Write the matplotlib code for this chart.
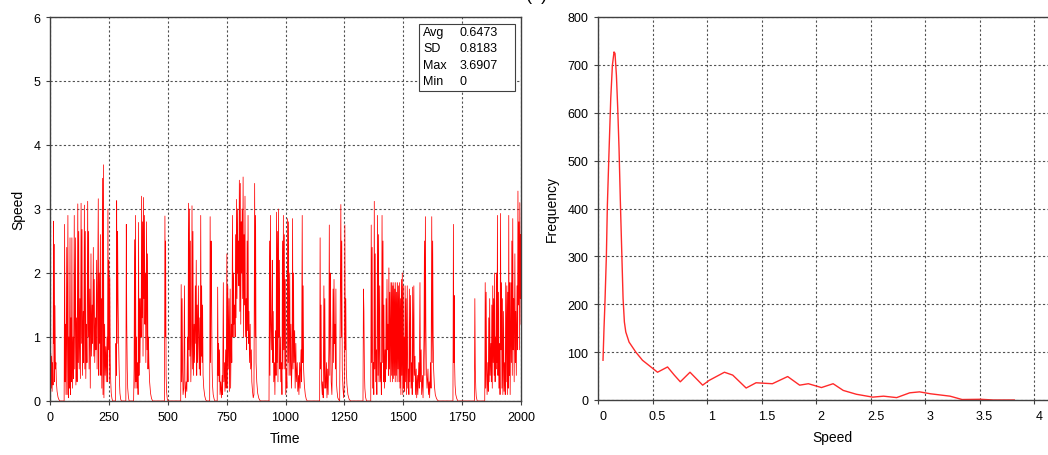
import matplotlib
matplotlib.use("Agg")
import matplotlib.pyplot as plt
import matplotlib.transforms as mtransforms

plt.rcParams['font.family'] = ['Liberation Sans', 'DejaVu Sans']
plt.rcParams['font.size'] = 9

# speed trace, (time, speed) pairs, split by time range
trace_0_500 = [
    (0, 1.27), (2, 0.3), (3, 0.75), (5, 0.2), (7, 0.7), (9, 0.15), (11, 0.6), (13, 0.25), (15, 2.81), (16, 0.9),
    (17, 2.45), (19, 0.3), (21, 1.49), (23, 0.5), (25, 0.6), (27, 0.3), (30, 0.15), (34, 0.06), (38, 0.02), (42, 0),
    (60, 0), (62, 2.76), (64, 0.3), (66, 1.2), (68, 0.1), (71, 2.4), (73, 0.1), (76, 2.9), (78, 0.05), (80, 1.0),
    (82, 0.2), (85, 2.55), (87, 0.1), (89, 1.3), (91, 0.3), (93, 2.55), (95, 0.2), (98, 1.0), (100, 0.35), (103, 2.9),
    (105, 0.5), (108, 2.55), (110, 0.25), (113, 1.3), (115, 0.3), (118, 3.08), (120, 0.6), (122, 2.65), (124, 0.5),
    (127, 1.6), (129, 0.35), (132, 3.09), (134, 0.9), (136, 2.68), (138, 0.4), (141, 1.4), (143, 0.6), (146, 3.06),
    (148, 0.5), (150, 2.65), (152, 0.35), (155, 1.2), (157, 0.6), (160, 3.12), (162, 1.0), (164, 2.65), (166, 0.5),
    (169, 1.75), (171, 0.2), (174, 2.3), (176, 0.7), (179, 1.5), (181, 0.9), (184, 2.4), (186, 0.7), (188, 1.9),
    (190, 0.6), (193, 1.3), (195, 0.8), (198, 2.2), (200, 0.5), (203, 2.0), (205, 3.16), (207, 0.4), (209, 2.0),
    (211, 0.9), (214, 2.6), (216, 0.4), (218, 1.6), (220, 0.2), (223, 3.48), (225, 0.1), (227, 3.6907), (229, 0.05),
    (232, 1.2), (234, 0.4), (237, 0.85), (239, 0.3), (242, 1.0), (244, 0.3), (246, 3.0), (248, 0.8), (250, 2.2),
    (252, 0.3), (254, 1.93), (256, 0.6), (258, 0.3), (260, 0.12), (263, 0.04), (266, 0),
    (278, 0), (280, 0.9), (282, 0.4), (283, 3.13), (285, 0.9), (287, 2.65), (289, 1.6), (291, 1.0), (293, 0.6),
    (295, 0.3), (297, 0.12), (300, 0.03), (303, 0),
    (322, 0), (324, 2.76), (326, 1.2), (328, 0.5), (330, 0.2), (333, 0.06), (336, 0),
    (355, 0), (357, 0.5), (359, 2.52), (361, 0.2), (363, 2.9), (365, 0.3), (367, 1.0), (369, 0.2), (372, 0.6),
    (374, 0.1), (376, 2.79), (378, 0.4), (380, 1.6), (382, 0.6), (385, 1.6), (387, 1.0), (389, 3.2), (391, 1.3),
    (393, 2.8), (395, 0.7), (397, 3.18), (399, 1.6), (401, 2.9), (403, 1.2), (405, 2.0), (407, 0.6), (410, 2.8),
    (412, 0.8), (414, 2.3), (416, 0.5), (418, 1.0), (420, 0.6), (423, 0.3), (427, 0.12), (431, 0.04), (436, 0),
    (486, 0), (488, 2.89), (490, 1.0), (491, 2.5), (493, 0.4), (495, 0.15), (498, 0.03), (501, 0),
]
trace_500_1000 = [
    (555, 0), (557, 1.82), (559, 0.3), (561, 1.6), (563, 0.5), (565, 0.1), (568, 0.2), (571, 1.8), (573, 0.3),
    (575, 0.05), (578, 0.3), (581, 0.15), (584, 1.0), (586, 0.3), (588, 3.09), (590, 0.8), (592, 3.0), (594, 0.7),
    (596, 2.5), (598, 0.3), (601, 1.0), (603, 3.05), (605, 0.5), (607, 2.65), (609, 0.4), (612, 1.2), (614, 0.6),
    (617, 1.8), (619, 0.9), (621, 2.2), (623, 0.4), (625, 1.5), (627, 0.6), (630, 1.8), (632, 0.9), (634, 0.5),
    (636, 1.3), (638, 0.4), (640, 2.9), (642, 0.7), (644, 1.8), (646, 0.6), (648, 1.5), (650, 0.4), (653, 0.2),
    (657, 0.08), (661, 0.02), (665, 0),
    (678, 0), (680, 2.88), (682, 0.6), (684, 2.5), (686, 1.8), (688, 0.6), (690, 0.25), (693, 0.1), (697, 0.03), (700, 0),
    (710, 0), (712, 1.78), (714, 0.4), (716, 0.9), (718, 0.3), (720, 0.8), (722, 0.1), (725, 0.3), (728, 0.05),
    (731, 0.4), (733, 0.1), (736, 1.85), (738, 0.3), (741, 0.6), (743, 0.15), (746, 0.8), (748, 0.2), (751, 2.3),
    (753, 0.2), (755, 1.8), (757, 0.5), (760, 1.6), (762, 0.15), (765, 1.75), (767, 0.2), (770, 1.2), (772, 0.6),
    (775, 2.9), (777, 1.0), (779, 2.0), (781, 1.2), (784, 1.5), (786, 1.0), (788, 2.6), (790, 1.3), (792, 3.15),
    (794, 1.6), (796, 3.0), (798, 2.0), (800, 2.5), (802, 1.8), (804, 3.45), (806, 1.4), (808, 3.4), (810, 1.2),
    (812, 2.8), (814, 2.0), (816, 3.0), (818, 1.6), (820, 3.5), (822, 1.0), (824, 2.6), (826, 1.5), (828, 3.2),
    (830, 1.0), (833, 1.6), (835, 0.8), (837, 2.5), (839, 1.1), (841, 2.9), (843, 0.9), (845, 1.4), (847, 0.6),
    (850, 1.2), (852, 0.5), (855, 0.8), (857, 0.3), (860, 0.15), (863, 0.05), (866, 0.1), (869, 3.4), (871, 1.0),
    (873, 2.9), (875, 0.6), (878, 0.3), (882, 0.12), (887, 0.04), (893, 0),
    (930, 0), (932, 2.5), (934, 0.4), (936, 2.9), (938, 1.2), (940, 0.8), (942, 1.4), (944, 2.2), (946, 0.6),
    (948, 1.4), (950, 0.3), (953, 0.6), (955, 0.1), (958, 1.1), (960, 0.4), (962, 2.95), (964, 0.6), (966, 2.65),
    (968, 0.3), (970, 3.0), (972, 1.0), (974, 2.2), (976, 0.5), (978, 1.0), (980, 0.3), (983, 0.6), (985, 0.1),
    (987, 2.5), (989, 0.5), (991, 2.9), (993, 0.8), (995, 2.6), (997, 0.5), (999, 1.9),
]
trace_1000_1500 = [
    (1001, 0.1), (1004, 0.5), (1006, 0.2), (1009, 2.85), (1011, 0.6), (1013, 2.8), (1015, 0.4), (1018, 2.0),
    (1020, 0.4), (1023, 1.2), (1025, 0.2), (1028, 0.6), (1030, 2.85), (1032, 0.5), (1034, 2.0), (1036, 0.6),
    (1039, 1.1), (1041, 0.2), (1044, 0.9), (1046, 0.3), (1050, 0.6), (1052, 0.15), (1055, 0.4), (1057, 0.1),
    (1060, 0.6), (1062, 0.2), (1066, 0.8), (1068, 0.3), (1071, 2.9), (1073, 0.6), (1075, 1.8), (1077, 0.5),
    (1080, 0.25), (1084, 0.1), (1088, 0.03), (1092, 0),
    (1145, 0), (1147, 2.55), (1149, 0.5), (1151, 1.5), (1153, 0.3), (1156, 0.1), (1158, 0.3), (1160, 0.05),
    (1163, 1.8), (1165, 0.2), (1167, 1.6), (1169, 0.3), (1171, 0.2), (1174, 0.6), (1176, 0.05), (1179, 0.5),
    (1181, 0.1), (1184, 0.8), (1186, 2.75), (1188, 0.4), (1190, 2.0), (1192, 1.3), (1194, 0.3), (1197, 0.1),
    (1200, 0.8), (1202, 1.75), (1204, 0.6), (1206, 1.9), (1208, 0.9), (1210, 1.2), (1212, 0.5), (1214, 1.75),
    (1216, 0.3), (1219, 0.15), (1222, 0.05), (1226, 0.02), (1230, 0), (1235, 3.07), (1237, 1.0), (1239, 2.5),
    (1241, 0.5), (1244, 0.2), (1247, 0.05), (1250, 0.3), (1252, 2.75), (1254, 0.8), (1256, 1.6), (1258, 0.5),
    (1261, 0.25), (1265, 0.1), (1270, 0.03), (1276, 0),
    (1329, 0), (1331, 1.75), (1333, 1.4), (1335, 0.5), (1337, 0.2), (1340, 0.06), (1344, 0),
    (1362, 0), (1364, 2.75), (1366, 0.6), (1368, 2.4), (1370, 0.2), (1373, 0.6), (1375, 0.1), (1377, 3.12),
    (1379, 0.5), (1381, 2.3), (1383, 0.3), (1386, 0.8), (1388, 0.1), (1391, 2.9), (1393, 0.4), (1395, 2.6),
    (1397, 0.3), (1400, 1.8), (1402, 0.3), (1405, 0.6), (1407, 0.1), (1410, 2.9), (1412, 0.6), (1414, 2.5),
    (1416, 0.3), (1418, 1.5), (1420, 0.2), (1423, 0.8), (1425, 0.3), (1427, 1.6), (1429, 0.5), (1431, 1.9),
    (1433, 0.8), (1435, 1.2), (1437, 0.4), (1439, 2.08), (1441, 0.5), (1443, 1.7), (1445, 0.3), (1448, 1.85),
    (1450, 0.4), (1452, 1.85), (1454, 0.3), (1456, 1.8), (1458, 0.35), (1460, 1.85), (1462, 0.4), (1464, 1.75),
    (1466, 0.3), (1468, 1.85), (1470, 0.4), (1472, 1.7), (1474, 0.3), (1476, 1.85), (1478, 0.5), (1480, 1.8),
    (1482, 0.3), (1484, 1.85), (1486, 0.2), (1488, 1.6), (1490, 0.1), (1492, 1.9), (1494, 0.4), (1496, 2.0),
    (1498, 0.1),
]
trace_1500_2000 = [
    (1500, 1.8), (1502, 0.2), (1504, 1.0), (1506, 0.15), (1508, 1.8), (1510, 0.3), (1512, 1.6), (1514, 0.1),
    (1517, 1.8), (1519, 0.2), (1522, 0.5), (1524, 0.1), (1526, 1.75), (1528, 0.3), (1531, 1.65), (1533, 0.2),
    (1536, 0.6), (1538, 0.1), (1540, 1.78), (1542, 0.3), (1545, 1.8), (1547, 0.4), (1550, 0.7), (1552, 0.1),
    (1555, 0.5), (1557, 0.05), (1560, 0.4), (1562, 0.1), (1566, 0.6), (1568, 0.2), (1571, 1.85), (1573, 0.3),
    (1576, 0.8), (1578, 0.1), (1582, 0.4), (1584, 0.05), (1588, 1.0), (1590, 2.5), (1592, 0.4), (1594, 2.88),
    (1596, 1.2), (1598, 0.5), (1601, 0.2), (1605, 0.5), (1607, 0.1), (1610, 0.3), (1612, 0.05), (1616, 0.6),
    (1618, 0.2), (1621, 2.88), (1623, 0.6), (1625, 2.5), (1627, 1.0), (1629, 0.5), (1632, 0.25), (1636, 0.1),
    (1641, 0.04), (1646, 0.01), (1650, 0),
    (1711, 0), (1713, 2.76), (1715, 0.6), (1716, 1.65), (1718, 0.6), (1720, 0.25), (1723, 0.1), (1727, 0.04), (1732, 0),
    (1802, 0), (1804, 1.6), (1806, 0.5), (1808, 0.2), (1810, 0.07), (1814, 0),
    (1846, 0), (1848, 1.85), (1850, 0.2), (1852, 1.7), (1854, 0.5), (1856, 0.1), (1859, 0.6), (1861, 0.15),
    (1863, 1.3), (1865, 0.3), (1867, 1.6), (1869, 0.4), (1872, 0.9), (1874, 0.3), (1876, 1.5), (1878, 0.2),
    (1880, 1.8), (1882, 0.6), (1884, 1.6), (1886, 0.4), (1888, 2.0), (1890, 0.3), (1892, 1.0), (1894, 0.5),
    (1896, 2.0), (1898, 0.6), (1900, 2.9), (1902, 0.4), (1904, 1.7), (1906, 0.2), (1909, 0.9), (1911, 0.1),
    (1913, 2.93), (1915, 0.8), (1917, 1.85), (1919, 0.2), (1921, 1.6), (1923, 0.1), (1926, 1.4), (1928, 0.15),
    (1931, 0.6), (1933, 0.1), (1935, 1.85), (1937, 0.3), (1940, 1.8), (1942, 0.1), (1944, 1.7), (1946, 0.2),
    (1948, 2.9), (1950, 0.4), (1952, 1.85), (1954, 0.1), (1957, 1.85), (1959, 0.6), (1961, 2.5), (1963, 0.4),
    (1965, 2.85), (1967, 0.8), (1969, 1.6), (1971, 0.3), (1974, 2.3), (1976, 0.6), (1978, 1.4), (1980, 0.4),
    (1983, 1.8), (1985, 0.8), (1987, 3.28), (1989, 1.5), (1991, 2.8), (1993, 0.8), (1995, 3.1), (1997, 1.6),
    (1999, 2.6), (2000, 1.2),
]

stat_names = ["Avg", "SD", "Max", "Min"]
stat_values = ["0.6473", "0.8183", "3.6907", "0"]

# speed distribution
speed_bins = [0.046, 0.055, 0.064, 0.077, 0.086, 0.10, 0.117, 0.132, 0.147, 0.156, 0.169, 0.181, 0.193,
              0.206, 0.218, 0.23, 0.242, 0.255, 0.285, 0.347, 0.408, 0.469, 0.546, 0.638, 0.70, 0.755,
              0.844, 0.96, 1.02, 1.16, 1.236, 1.359, 1.45, 1.60, 1.74, 1.85, 1.93, 2.05, 2.157, 2.25,
              2.37, 2.52, 2.62, 2.74, 2.86, 2.95, 3.05, 3.23, 3.34, 3.51, 3.63, 3.82]
frequency = [83, 149, 205, 302, 407, 511, 630, 699, 727, 724, 678, 609, 525,
             407, 309, 212, 163, 142, 121, 100, 83, 72, 58, 69, 52, 38,
             58, 31, 41, 58, 52, 25, 36, 34, 49, 31, 34, 26, 34, 20,
             12, 6, 8, 5, 15, 17, 13, 8, 1, 1.5, 0, 0]

trace = trace_0_500 + trace_500_1000 + trace_1000_1500 + trace_1500_2000
time = [p[0] for p in trace]
speed = [p[1] for p in trace]

fig = plt.figure(figsize=(10.48, 4.56), dpi=100)
W, H = 1048, 456
ax1 = fig.add_axes([50 / W, (H - 402) / H, 471 / W, 384 / H])
ax2 = fig.add_axes([598 / W, (H - 401) / H, 4.3 * 109 / W, 383 / H])

spine_col = '#404040'
grid_kw = dict(color='#505050', linestyle=(0, (2, 2)), linewidth=0.8)

def style(ax):
    for s in ax.spines.values():
        s.set_color(spine_col)
        s.set_linewidth(1.0)
    ax.tick_params(direction='out', length=3, width=0.8, color=spine_col, labelsize=9, pad=4)
    ax.grid(True, **grid_kw)
    ax.set_axisbelow(True)

# time series
ax1.plot(time, speed, color='#ff0000', linewidth=0.55)
ax1.set_xlim(0, 2000)
ax1.set_ylim(0, 6)
ax1.set_xticks(range(0, 2001, 250))
ax1.set_yticks(range(0, 7))
ax1.set_xlabel("Time", fontsize=10, labelpad=6)
ax1.set_ylabel("Speed", fontsize=10, labelpad=6)
style(ax1)

box = plt.Rectangle((0.783, 0.807), 0.204, 0.175, transform=ax1.transAxes,
                    facecolor='white', edgecolor='#404040', linewidth=0.8, zorder=5)
ax1.add_patch(box)
for i, (name, val) in enumerate(zip(stat_names, stat_values)):
    y = 0.960 - i * 0.042
    ax1.text(0.792, y, name, transform=ax1.transAxes, fontsize=9, va='center', zorder=6)
    ax1.text(0.870, y, val, transform=ax1.transAxes, fontsize=9, va='center', zorder=6)

# distribution
ax2.plot(speed_bins, frequency, color='#ff2a2a', linewidth=1.0)
ax2.set_xlim(0, 4.3)
ax2.set_ylim(0, 800)
ax2.set_xticks([0, 0.5, 1, 1.5, 2, 2.5, 3, 3.5, 4])
ax2.set_xticklabels(["0", "0.5", "1", "1.5", "2", "2.5", "3", "3.5", "4"])
ax2.set_yticks(range(0, 801, 100))
ax2.set_xlabel("Speed", fontsize=10, labelpad=6)
ax2.set_ylabel("Frequency", fontsize=10, labelpad=6)
style(ax2)
shift = mtransforms.ScaledTranslation(5 / 100, 0, fig.dpi_scale_trans)
for lbl in ax2.get_xticklabels():
    lbl.set_transform(lbl.get_transform() + shift)

fig.text(537 / W, 1.0, "(a)", fontsize=13, ha='center', va='baseline')

fig.savefig("out.png", dpi=100)
